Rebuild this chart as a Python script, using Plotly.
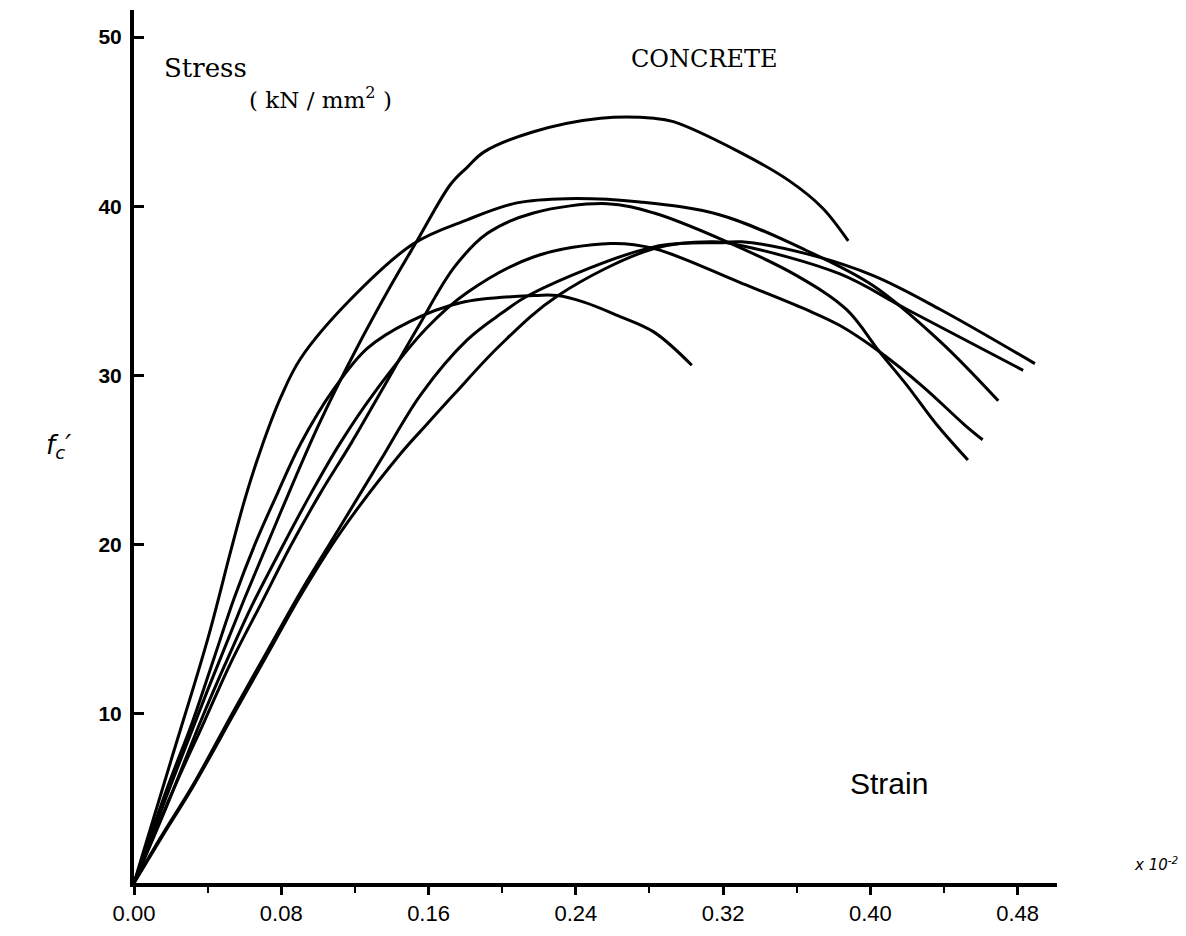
import plotly.graph_objects as go

# Strain values are in units of 10^-2 (as on the x axis); stress in kN/mm2
strain_a = [0, 0.02, 0.04, 0.06, 0.08, 0.10, 0.12, 0.14, 0.154, 0.172, 0.181, 0.19, 0.217, 0.2535, 0.2825, 0.293, 0.329, 0.356, 0.374, 0.388]
stress_a = [0, 5.8, 11.4, 16.8, 22.0, 27.0, 31.4, 35.4, 38.0, 41.3, 42.3, 43.2, 44.4, 45.2, 45.2, 45.0, 43.2, 41.5, 39.9, 37.95]

strain_b = [0, 0.02, 0.04, 0.0525, 0.060, 0.0688, 0.0797, 0.0905, 0.1177, 0.152, 0.181, 0.208, 0.235, 0.2749, 0.318, 0.365, 0.4016, 0.438, 0.4695]
stress_b = [0, 7.2, 14.4, 19.6, 22.6, 25.6, 28.7, 31.0, 34.5, 37.8, 39.2, 40.2, 40.45, 40.25, 39.5, 37.4, 35.3, 32.0, 28.5]

strain_c = [0, 0.0217, 0.038, 0.0525, 0.069, 0.085, 0.101, 0.118, 0.135, 0.154, 0.174, 0.192, 0.217, 0.257, 0.2825, 0.320, 0.360, 0.387, 0.405, 0.420, 0.436, 0.453]
stress_c = [0, 5.6, 9.5, 13.0, 16.5, 19.9, 23.0, 26.0, 29.2, 32.8, 36.4, 38.4, 39.6, 40.15, 39.6, 38.0, 35.9, 33.9, 31.4, 29.4, 27.1, 25.0]

strain_d = [0, 0.018, 0.036, 0.049, 0.0634, 0.0797, 0.096, 0.112, 0.130, 0.159, 0.181, 0.217, 0.259, 0.2825, 0.329, 0.365, 0.3835, 0.405, 0.429, 0.451, 0.461]
stress_d = [0, 4.6, 9.5, 12.8, 16.25, 19.7, 23.0, 26.0, 28.9, 32.8, 34.9, 37.0, 37.8, 37.5, 35.5, 33.9, 32.95, 31.4, 29.3, 27.1, 26.2]

strain_e = [0, 0.0145, 0.0326, 0.0543, 0.0724, 0.0905, 0.110, 0.134, 0.156, 0.181, 0.20, 0.2155, 0.2825, 0.32, 0.33, 0.365, 0.4016, 0.438, 0.4894]
stress_e = [0, 2.7, 5.9, 10.2, 13.7, 17.2, 20.7, 25.0, 28.9, 32.1, 33.7, 34.8, 37.6, 37.85, 37.9, 37.2, 35.9, 33.9, 30.7]

strain_f = [0, 0.0145, 0.0326, 0.0543, 0.0724, 0.0905, 0.112, 0.145, 0.159, 0.174, 0.199, 0.230, 0.2825, 0.315, 0.329, 0.3835, 0.420, 0.483]
stress_f = [0, 2.6, 5.8, 10.0, 13.5, 17.0, 20.7, 25.4, 27.1, 28.9, 31.8, 34.7, 37.5, 37.9, 37.7, 36.0, 33.9, 30.3]

strain_g = [0, 0.018, 0.0317, 0.0435, 0.0543, 0.066, 0.078, 0.0905, 0.1086, 0.1267, 0.150, 0.1774, 0.217, 0.230, 0.2444, 0.2625, 0.2825, 0.303]
stress_g = [0, 5.6, 9.5, 13.3, 16.8, 20.1, 23.05, 25.96, 29.2, 31.6, 33.2, 34.3, 34.72, 34.72, 34.33, 33.55, 32.56, 30.6]

x_tickvals = [0, 0.08, 0.16, 0.24, 0.32, 0.40, 0.48]
x_ticktext = ["0.00", "0.08", "0.16", "0.24", "0.32", "0.40", "0.48"]
y_tickvals = [10, 20, 30, 40, 50]
y_ticktext = ["10", "20", "30", "40", "50"]

curves = [
    (strain_a, stress_a), (strain_b, stress_b), (strain_c, stress_c),
    (strain_d, stress_d), (strain_e, stress_e), (strain_f, stress_f),
    (strain_g, stress_g),
]

fig = go.Figure()
for xs, ys in curves:
    fig.add_trace(go.Scatter(
        x=xs, y=ys, mode="lines",
        line=dict(color="black", width=3, shape="spline", smoothing=1.0),
        showlegend=False, hoverinfo="skip",
    ))

fig.update_layout(
    width=1170, height=920,
    margin=dict(l=126, r=121, t=2, b=32),
    paper_bgcolor="white", plot_bgcolor="white",
    showlegend=False,
)

narrow = "Liberation Sans Narrow, Arial Narrow, Liberation Sans"
fig.update_xaxes(
    range=[0, 0.5014],
    showgrid=False, zeroline=False,
    showline=True, linecolor="black", linewidth=4,
    tickvals=x_tickvals, ticktext=x_ticktext,
    ticks="outside", ticklen=8, tickwidth=3, tickcolor="black",
    minor=dict(dtick=0.04, tick0=0, ticks="outside", ticklen=6, tickwidth=2, tickcolor="black"),
    tickfont=dict(family=narrow, size=22, color="black"),
)
fig.update_yaxes(
    range=[0, 51.6],
    showgrid=False, zeroline=False,
    showline=True, linecolor="black", linewidth=4,
    tickvals=y_tickvals, ticktext=y_ticktext,
    ticks="inside", ticklen=10, tickwidth=3, tickcolor="black",
    tickfont=dict(family="Liberation Sans, Arial", size=21, color="black", weight="bold"),
    ticklabelstandoff=4,
)

serif = "DejaVu Serif, Liberation Serif, serif"
fig.add_annotation(x=0.0152, y=48.2, xref="x", yref="y", text="Stress", showarrow=False,
                   xanchor="left", yanchor="middle", font=dict(family=serif, size=26, color="black"))
fig.add_annotation(x=0.0614, y=46.4, xref="x", yref="y", text="( kN / mm<sup>2</sup> )", showarrow=False,
                   xanchor="left", yanchor="middle", font=dict(family=serif, size=23, color="black"))
fig.add_annotation(x=0.310, y=48.7, xref="x", yref="y", text="CONCRETE", showarrow=False,
                   xanchor="center", yanchor="middle", font=dict(family=serif, size=24, color="black"))
fig.add_annotation(x=0.410, y=5.9, xref="x", yref="y", text="Strain", showarrow=False,
                   xanchor="center", yanchor="middle",
                   font=dict(family=narrow, size=30, color="black"))
fig.add_annotation(x=-0.082, y=0.50, xref="paper", yref="paper", text="<i>f<sub>c</sub>′</i>", showarrow=False,
                   xanchor="center", yanchor="middle", font=dict(family="DejaVu Sans", size=26, color="black"))
fig.add_annotation(x=1.108, y=0.022, xref="paper", yref="paper", text="<i>x 10<sup>-2</sup></i>", showarrow=False,
                   xanchor="center", yanchor="middle", font=dict(family="DejaVu Sans", size=15, color="black"))

fig.write_html("out.html")
